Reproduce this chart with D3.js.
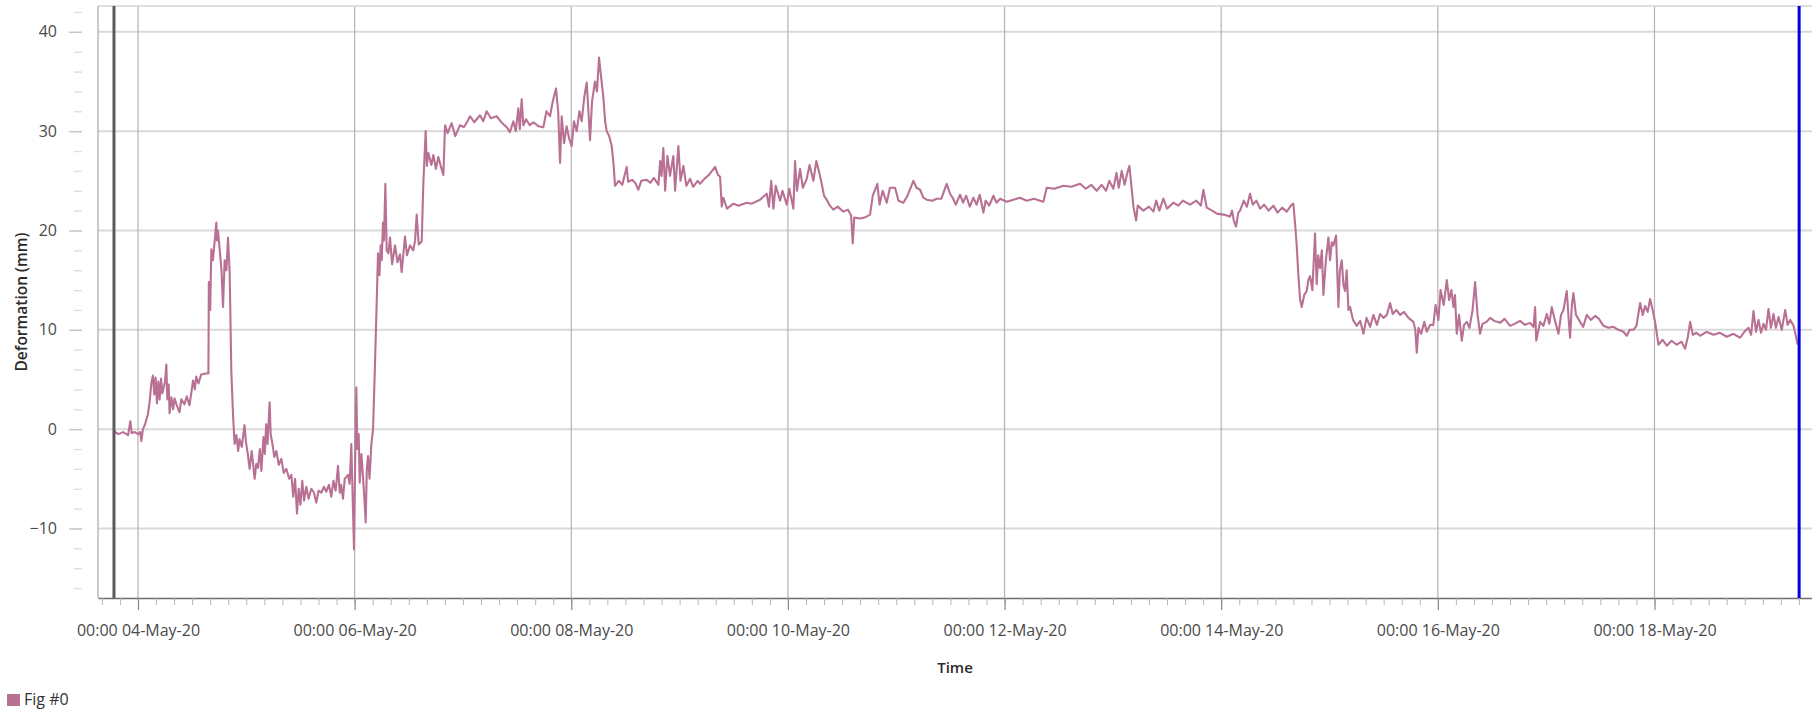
<!DOCTYPE html>
<html>
<head>
<meta charset="utf-8">
<script src="https://cdn.jsdelivr.net/npm/d3@7"></script>
<style>
  html, body { margin: 0; padding: 0; background: #fff; }
  svg { display: block; font-family: "Open Sans", "Noto Sans", sans-serif; }
</style>
</head>
<body>
<div id="chart"></div>
<script>
// hours after 00:00 04-May-20, and deformation in mm
var hoursA = [-5.3, -4.4, -3.3, -2.2, -1.7, -1.4, -0.7, 0, 0.5, 0.74, 1.1, 1.5, 2.2, 2.6, 2.95, 3.3, 3.6, 3.9, 4.2, 4.5, 4.8, 5.1, 5.4, 6.0, 6.28, 6.5, 6.8, 7.0, 7.4, 7.8, 8.1, 8.6, 9.2, 9.6, 10.3, 10.8, 11.4, 11.8, 12.2, 12.6, 12.9, 13.4, 14.0, 15.0, 15.6];
var valsA = [-0.2, -0.5, -0.3, -0.6, 0.8, -0.4, -0.3, -0.5, -0.3, -1.2, 0.0, 0.4, 1.5, 2.8, 4.6, 5.4, 3.5, 5.2, 2.6, 4.8, 3.0, 5.1, 3.6, 4.8, 6.5, 3.0, 4.5, 1.6, 3.2, 2.0, 3.1, 2.4, 1.7, 3.0, 2.5, 3.3, 2.4, 3.6, 4.9, 4.0, 5.3, 4.6, 5.5, 5.6, 5.6];

var hoursB = [15.7, 16.0, 16.25, 16.6, 17.0, 17.36, 17.5, 17.73, 18.1, 18.5, 18.84, 19.2, 19.6, 19.94, 20.31, 20.68, 21.05, 21.4, 21.8, 22.2, 22.5, 23.0, 23.6, 23.9, 24.3, 24.74, 25.2, 25.85, 26.2, 26.59, 27.0, 27.33, 27.8, 28.1, 28.4, 28.7, 29.17, 29.4, 29.8, 30.2, 30.65, 31.2, 31.76, 32.3, 32.87, 33.5, 33.98, 34.4, 34.8, 35.23, 35.6, 36.0, 36.4, 36.8, 37.3, 37.8, 38.41, 39.0, 39.51, 40.0, 40.62, 41.2, 41.73, 42.3, 42.84, 43.3, 43.8, 44.32, 44.7, 45.0, 45.42, 45.8, 46.53, 46.9, 47.27, 47.6, 47.86, 48.1, 48.38, 48.6, 48.9, 49.12, 49.5, 49.86, 50.1, 50.45, 50.7, 50.97, 51.3, 51.71, 52.08, 52.45, 52.82, 53.18, 53.5, 53.77, 54.0, 54.29, 54.5, 54.81, 55.1];
var valsB = [14.8, 12.0, 18.1, 17.0, 19.0, 20.8, 19.0, 20.0, 18.1, 16.0, 12.3, 17.0, 16.0, 19.3, 15.8, 5.8, 1.5, -1.5, -0.6, -2.2, -1.0, -1.8, 0.4, -1.2, -2.4, -4.0, -2.2, -5.0, -3.5, -3.9, -2.0, -4.2, -0.8, -2.5, 0.5, -1.5, 2.7, -0.5, -1.5, -2.8, -2.2, -3.6, -3.0, -4.4, -4.0, -5.0, -4.6, -6.8, -5.0, -8.5, -6.0, -7.6, -5.2, -7.2, -5.8, -7.0, -6.0, -6.4, -7.4, -6.2, -6.4, -5.8, -6.3, -5.6, -6.8, -5.2, -6.2, -3.7, -6.4, -5.6, -7.0, -5.0, -4.6, -5.5, -1.5, -7.5, -12.1, -4.0, 4.2, -2.0, -0.5, -5.4, -2.5, -4.8, -6.5, -9.4, -4.0, -2.7, -5.0, -1.5, 0.0, 5.6, 11.6, 17.7, 15.5, 18.5, 17.0, 20.8, 19.0, 24.7, 18.0];

var hoursC = [55.47, 55.84, 56.3, 56.95, 57.5, 58.05, 58.42, 59.16, 59.6, 60.27, 61.0, 61.4, 61.75, 62.2, 62.86, 63.22, 63.74, 64.0, 64.33, 65.0, 65.44, 66.0, 66.55, 67.2, 67.66, 68.03, 68.6, 69.5, 70.3, 71.35, 72.2, 73.0, 73.57, 74.5, 75.78, 76.5, 77.26, 78.2, 79.47, 80.5, 81.69, 82.4, 83.17, 83.7, 84.27, 84.6, 85.01, 85.38, 86.0, 86.8, 87.6, 88.7, 89.81, 90.5, 91.29, 91.9, 92.62, 93.1, 93.51, 93.88, 94.4, 94.98, 95.5, 96.09, 96.6, 97.2, 97.8, 98.31, 98.9, 99.42, 99.8, 100.16, 100.6, 101.26, 101.7, 102.15, 102.6, 103.11, 103.5, 103.85, 104.4, 104.96, 105.4, 105.69, 106.5, 107.3, 108.28, 108.6, 109.5, 110.3, 110.86, 111.5, 112.71, 113.5, 114.3, 115.3, 115.7, 116.0, 116.4, 116.8, 117.3, 117.88];
var valsC = [17.7, 19.3, 16.6, 18.5, 16.8, 17.6, 15.8, 19.4, 17.5, 18.5, 18.0, 19.0, 21.6, 18.6, 18.9, 24.7, 30.0, 26.5, 27.8, 26.6, 27.6, 26.2, 27.4, 26.3, 25.6, 30.6, 29.8, 30.8, 29.5, 30.6, 30.4, 31.0, 31.5, 30.9, 31.6, 31.0, 32.0, 31.3, 31.5, 30.9, 30.4, 29.9, 31.0, 30.0, 32.3, 30.2, 33.2, 30.6, 31.2, 30.6, 30.9, 30.5, 30.4, 32.0, 31.5, 33.0, 34.3, 32.0, 26.8, 31.5, 28.8, 30.5, 29.3, 28.5, 31.0, 30.0, 32.0, 31.0, 33.5, 34.9, 32.0, 29.1, 33.0, 35.0, 34.0, 37.4, 35.5, 33.4, 31.0, 30.0, 29.5, 28.5, 26.5, 24.5, 25.0, 24.6, 26.4, 24.9, 25.1, 24.7, 24.1, 25.0, 25.1, 24.8, 25.3, 24.6, 27.0, 25.5, 28.3, 24.0, 27.5, 25.5];

var hoursD = [118.62, 119.0, 119.73, 120.2, 120.84, 121.5, 122.32, 123.0, 124.0, 124.53, 125.5, 126.5, 127.86, 128.5, 128.97, 129.34, 129.7, 130.5, 131.92, 133.0, 134.88, 136.0, 137.83, 139.31, 139.8, 140.3, 140.78, 141.3, 142.26, 142.8, 143.74, 144.3, 145.21, 145.58, 146.0, 146.69, 147.3, 148.17, 148.8, 149.64, 150.3, 151.1, 151.49, 152.0, 152.6, 153.3, 154.07, 155.0, 156.29, 157.3, 158.0, 158.36, 158.7, 159.98, 161.0, 162.2, 162.8, 163.82, 164.3, 165.0, 165.89, 166.6, 167.74, 168.5, 169.58, 170.5, 171.8, 172.5, 173.28, 174.0, 174.75, 176.0, 176.97, 178.0, 179.18, 179.92];
var valsD = [27.5, 24.0, 28.5, 25.0, 26.5, 24.5, 25.2, 24.4, 25.0, 24.7, 25.2, 25.6, 26.4, 25.6, 25.4, 22.4, 23.3, 22.2, 22.7, 22.5, 22.8, 22.7, 23.1, 23.7, 22.4, 25.0, 22.2, 24.5, 23.0, 24.0, 22.6, 24.2, 22.2, 27.0, 24.0, 26.2, 24.3, 25.2, 26.6, 25.0, 27.0, 25.5, 24.7, 23.5, 23.1, 22.5, 22.1, 22.4, 21.9, 22.1, 21.5, 18.7, 21.3, 21.2, 21.3, 21.6, 23.5, 24.7, 22.6, 24.0, 22.8, 24.3, 24.3, 23.0, 22.8, 23.5, 25.0, 24.3, 24.1, 23.3, 23.1, 23.0, 23.2, 23.2, 24.7, 23.7];

var hoursE = [180.5, 181.2, 182.14, 182.8, 183.5, 184.3, 185.09, 185.8, 186.5, 187.31, 187.8, 188.6, 189.53, 190.2, 191.0, 192.5, 193.96, 195.4, 196.91, 198.5, 200.6, 201.34, 203.0, 205.04, 206.8, 208.73, 210.0, 211.2, 212.42, 213.5, 214.5, 215.2, 216.11, 216.8, 217.3, 217.96, 218.6, 219.2, 219.66, 220.1, 220.55, 221.14, 221.5, 222.76, 224.0, 224.98, 225.6, 226.3, 227.19, 228.0, 229.41, 230.5, 231.5, 233.1, 234.5, 235.5, 236.05, 236.79, 238.0, 239.01, 240.5, 241.96];
var valsE = [23.3, 22.6, 23.6, 22.8, 23.5, 22.4, 23.3, 22.6, 23.6, 21.8, 23.0, 22.5, 23.5, 22.8, 23.2, 22.9, 23.1, 23.3, 23.0, 23.2, 22.9, 24.3, 24.2, 24.5, 24.4, 24.7, 24.2, 24.6, 24.0, 24.6, 24.0, 25.0, 24.2, 25.8, 24.3, 26.0, 24.6, 25.8, 26.5, 24.5, 22.4, 21.0, 22.5, 22.0, 22.4, 21.9, 23.0, 22.0, 23.2, 22.2, 22.8, 22.5, 23.0, 22.6, 23.0, 22.5, 24.1, 22.3, 22.0, 21.7, 21.6, 21.4];

var hoursF = [242.4, 242.8, 243.29, 243.8, 244.18, 245.0, 245.7, 246.39, 247.0, 247.8, 248.61, 249.5, 250.5, 251.56, 252.5, 253.5, 254.51, 255.62, 255.99, 256.4, 256.73, 257.1, 257.47, 257.84, 258.4, 258.94, 259.3, 259.68, 260.2, 260.79, 261.16, 261.5, 261.9, 262.3, 262.64, 263.2, 263.75, 264.12, 264.5, 264.86, 265.45, 265.97, 266.3, 266.71, 267.1, 267.45, 267.8, 268.19, 268.56, 269.2, 270.03, 270.8, 271.51, 272.2, 273.0, 273.73, 274.5, 275.2, 275.94, 276.7, 277.42, 278.0, 278.8, 279.64, 280.5, 281.5, 282.59, 283.0, 283.33, 283.7, 284.3, 285.0, 285.55, 286.3, 287.0, 287.5, 288.13, 288.6, 289.3, 289.98, 290.5, 291.0, 291.46, 291.8, 292.19, 292.7, 293.3, 293.8, 294.41, 295.0, 295.7, 296.25, 296.8, 297.36, 297.9, 298.8, 299.58, 300.5, 301.79, 302.8, 304.01];
var valsF = [22.0, 21.0, 20.4, 21.8, 22.0, 23.0, 22.4, 23.7, 22.6, 23.0, 22.2, 22.6, 22.0, 22.5, 21.8, 22.3, 21.9, 22.6, 22.7, 20.5, 18.5, 15.5, 13.1, 12.3, 13.5, 13.9, 15.0, 15.4, 14.0, 19.7, 14.6, 17.5, 16.2, 18.0, 13.5, 17.0, 19.3, 17.0, 18.8, 18.5, 19.5, 12.3, 16.0, 17.0, 14.5, 13.9, 16.0, 12.0, 12.3, 11.0, 10.4, 10.9, 9.6, 11.2, 10.3, 11.5, 10.5, 11.6, 11.2, 11.5, 12.7, 11.6, 12.0, 11.5, 11.8, 11.2, 10.8, 10.0, 7.7, 10.2, 9.6, 10.8, 9.8, 10.5, 10.5, 12.5, 11.0, 14.0, 12.5, 15.0, 13.0, 14.0, 12.3, 13.5, 9.6, 11.5, 8.9, 10.5, 10.8, 10.2, 12.0, 14.8, 11.5, 9.6, 10.6, 10.8, 11.2, 10.9, 10.7, 11.1, 10.4];

var hoursG = [305.0, 306.23, 307.3, 308.44, 309.2, 309.55, 309.8, 310.66, 311.4, 312.13, 312.7, 313.24, 313.9, 314.72, 315.3, 315.83, 316.56, 317.0, 317.3, 317.7, 318.04, 318.6, 319.52, 320.2, 321.0, 321.9, 322.84, 323.7, 324.69, 325.8, 326.9, 328.0, 329.12, 329.86, 330.5, 331.34, 332.0, 332.82, 333.4, 333.92, 334.5, 335.03, 335.6, 336.14, 336.88, 337.8, 338.73, 339.8, 340.94, 342.0, 342.79, 343.4, 343.9, 344.5, 345.3, 346.12, 347.5, 349.07, 350.5, 352.03, 353.5, 354.98, 355.9, 356.83, 357.4, 357.94, 358.5, 359.05, 359.6, 360.16, 360.7, 361.26, 361.8, 362.37, 362.9, 363.48, 364.2, 364.96, 365.5, 366.07, 366.81, 367.77];
var valsG = [10.6, 10.9, 10.5, 10.7, 10.3, 12.3, 8.9, 10.8, 10.4, 11.6, 10.6, 12.3, 11.0, 9.6, 11.5, 12.0, 13.9, 11.0, 9.2, 12.5, 13.7, 11.5, 10.8, 10.3, 11.5, 11.0, 11.4, 11.1, 10.4, 10.2, 10.3, 10.0, 9.8, 9.4, 10.0, 10.0, 10.4, 12.7, 11.5, 12.4, 11.8, 13.1, 12.0, 10.8, 8.5, 9.0, 8.4, 8.9, 8.5, 8.8, 8.1, 9.3, 10.8, 9.5, 9.7, 9.4, 9.8, 9.5, 9.7, 9.3, 9.6, 9.2, 9.8, 10.2, 9.5, 11.9, 9.8, 11.0, 9.7, 10.6, 10.0, 12.1, 10.2, 11.6, 10.2, 11.3, 10.0, 12.0, 10.5, 11.0, 10.4, 8.5];

var yMajor = [-10, 0, 10, 20, 30, 40];
var startMarker = -5.32;   // dark cursor, hours
var endMarker = 368.05;    // blue cursor, hours
var seriesName = "Fig #0";

var base = Date.UTC(2020, 4, 4, 0, 0);
function t(h) { return new Date(base + h * 3600000); }

var hours = [].concat(hoursA, hoursB, hoursC, hoursD, hoursE, hoursF, hoursG);
var vals = [].concat(valsA, valsB, valsC, valsD, valsE, valsF, valsG);
var data = hours.map(function(h, i) { return {t: t(h), v: vals[i]}; });

var width = 1812, height = 710;
var plotL = 98, plotR = 1812, plotT = 6, plotB = 598;
var lineColor = "#b97193";

var x = d3.scaleUtc().domain([t(-8.86), t(370.9)]).range([plotL, plotR]);
var y = d3.scaleLinear().domain([-17, 42.6]).range([plotB, plotT]);

var svg = d3.select("#chart").append("svg")
    .attr("width", width)
    .attr("height", height);

var evenDays = d3.utcDay.filter(function(d) { return d.getUTCDate() % 2 === 0; });
var majorX = evenDays.range(x.domain()[0], x.domain()[1]);

// grid
svg.append("g").selectAll("line").data(yMajor).join("line")
    .attr("x1", plotL).attr("x2", plotR)
    .attr("y1", d => y(d)).attr("y2", d => y(d))
    .attr("stroke", "#d9d9d9").attr("stroke-width", 2);
svg.append("g").selectAll("line").data(majorX).join("line")
    .attr("x1", d => x(d)).attr("x2", d => x(d))
    .attr("y1", plotT).attr("y2", plotB)
    .attr("stroke", "#b3b3b3").attr("stroke-width", 1.2);

// frame top + left
svg.append("line").attr("x1", plotL).attr("x2", plotR).attr("y1", plotT).attr("y2", plotT)
    .attr("stroke", "#d4d4d4").attr("stroke-width", 1.5);
svg.append("line").attr("x1", plotL).attr("x2", plotL).attr("y1", plotT).attr("y2", plotB)
    .attr("stroke", "#a8a8a8").attr("stroke-width", 1.2);

// y axis, ticks sit away from the frame
var yMinorAxis = svg.append("g")
    .attr("transform", "translate(82,0)")
    .call(d3.axisLeft(y).tickValues(d3.range(-16, 43, 2)).tickSize(8).tickFormat(""));
yMinorAxis.select(".domain").remove();
yMinorAxis.selectAll("line").attr("stroke", "#dcdcdc").attr("stroke-width", 1.3);

var yAxis = svg.append("g")
    .attr("transform", "translate(82,0)")
    .call(d3.axisLeft(y).tickValues(yMajor).tickSize(13).tickPadding(12));
yAxis.select(".domain").remove();
yAxis.selectAll("line").attr("stroke", "#c8c8c8").attr("stroke-width", 1.5);
yAxis.selectAll("text").attr("fill", "#4a4a4a").style("font-size", "16px")
    .style("font-family", "'Open Sans', sans-serif");

// x axis
var xMinorAxis = svg.append("g")
    .attr("transform", "translate(0," + plotB + ")")
    .call(d3.axisBottom(x).ticks(d3.utcHour.every(4)).tickSize(7).tickSizeOuter(0).tickFormat(""));
xMinorAxis.select(".domain").attr("stroke", "#6e6e6e").attr("stroke-width", 1.3);
xMinorAxis.selectAll(".tick line").attr("stroke", "#b5b5b5");

var xAxis = svg.append("g")
    .attr("transform", "translate(0," + plotB + ")")
    .call(d3.axisBottom(x).tickValues(majorX).tickSize(12).tickSizeOuter(0).tickPadding(15)
        .tickFormat(d3.utcFormat("%H:%M %d-%b-%y")));
xAxis.select(".domain").remove();
xAxis.selectAll(".tick line").attr("stroke", "#8a8a8a").attr("stroke-width", 1.2);
xAxis.selectAll("text").attr("fill", "#4a4a4a").style("font-size", "16px")
    .style("font-family", "'Open Sans', sans-serif");

// series
var line = d3.line().x(d => x(d.t)).y(d => y(d.v));
svg.append("path")
    .datum(data)
    .attr("fill", "none")
    .attr("stroke", lineColor)
    .attr("stroke-width", 2.1)
    .attr("stroke-linejoin", "round")
    .attr("d", line);

// cursors
svg.append("line")
    .attr("x1", x(t(startMarker))).attr("x2", x(t(startMarker)))
    .attr("y1", plotT).attr("y2", plotB)
    .attr("stroke", "#5a5a5a").attr("stroke-width", 3);
svg.append("line")
    .attr("x1", x(t(endMarker))).attr("x2", x(t(endMarker)))
    .attr("y1", plotT).attr("y2", plotB)
    .attr("stroke", "#0000e0").attr("stroke-width", 3);

// axis titles
svg.append("text")
    .attr("transform", "rotate(-90)")
    .attr("x", -(plotT + plotB) / 2)
    .attr("y", 27)
    .style("text-anchor", "middle")
    .style("font-size", "15.5px")
    .style("font-weight", "600")
    .attr("fill", "#2a2a2a")
    .text("Deformation (mm)");

svg.append("text")
    .attr("x", (plotL + plotR) / 2)
    .attr("y", 673)
    .style("text-anchor", "middle")
    .style("font-size", "15px")
    .style("font-weight", "600")
    .attr("fill", "#2a2a2a")
    .text("Time");

// legend
svg.append("rect")
    .attr("x", 7).attr("y", 694).attr("width", 13).attr("height", 12)
    .attr("fill", lineColor);
svg.append("text")
    .attr("x", 24).attr("y", 705)
    .style("font-size", "16px")
    .attr("fill", "#333")
    .text(seriesName);
</script>
</body>
</html>
